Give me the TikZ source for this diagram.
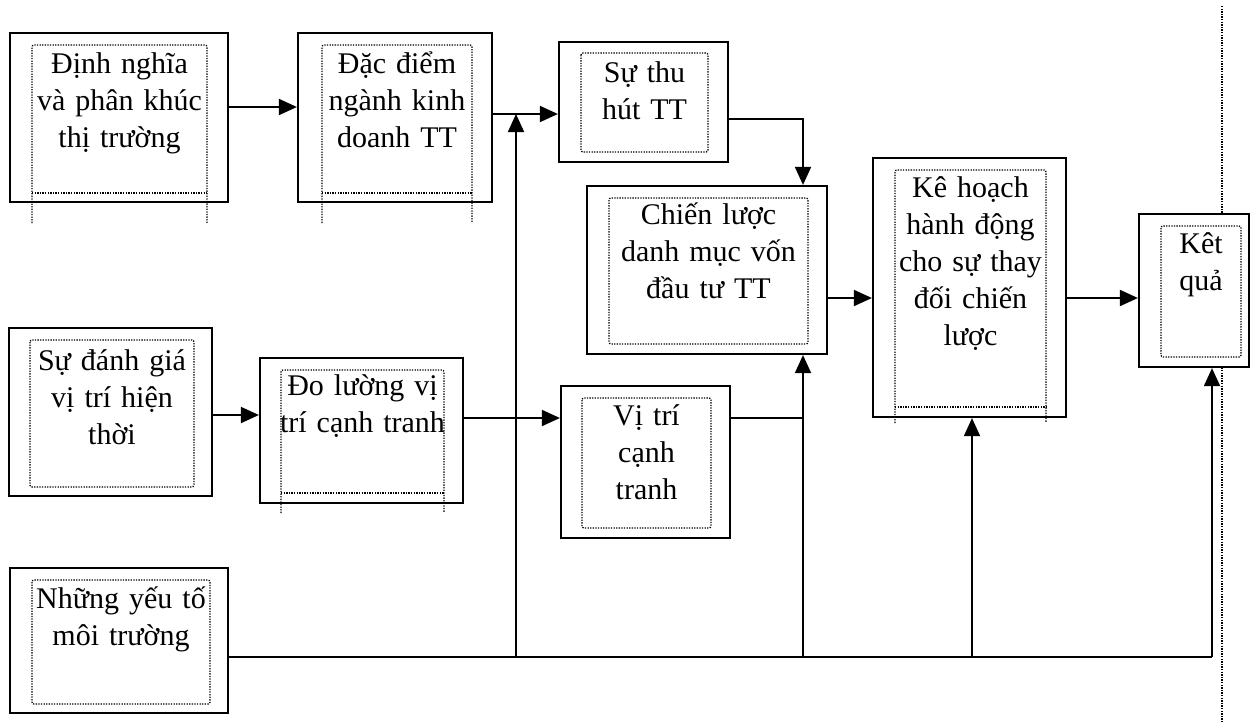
\documentclass[tikz,border=0pt]{standalone}
\usepackage{fontspec}
\setmainfont{Liberation Serif}
\usetikzlibrary{arrows.meta}
\begin{document}
\begin{tikzpicture}[x=1pt,y=-1pt,
  box/.style={draw, fill=white, line width=2.2pt, inner sep=0pt},
  inbox/.style={line width=1.3pt, dash pattern=on 1.3pt off 1.3pt, rounded corners=2pt},
  txt/.style={text width=240pt, align=center, inner sep=0pt, anchor=base,
    font=\fontsize{30}{37}\selectfont},
  arr/.style={line width=1.8pt, -{Triangle[length=18pt,width=16pt]}},
  ln/.style={line width=1.8pt}]
\useasboundingbox (0,0) rectangle (1251,724);
% dotted vertical guide
\draw[inbox] (1222,6) -- (1222,722);
% outer boxes
\node[box, minimum width=218pt, minimum height=169pt] (dn) at (119,117.5) {};
\node[box, minimum width=194pt, minimum height=169pt] (dd) at (395,117.5) {};
\node[box, minimum width=169pt, minimum height=120pt] (st) at (643.5,102) {};
\node[box, minimum width=240pt, minimum height=168pt] (cl) at (707,270) {};
\node[box, minimum width=193pt, minimum height=259pt] (kh) at (969.5,287.5) {};
\node[box, minimum width=110pt, minimum height=153pt] (kq) at (1194,290.5) {};
\node[box, minimum width=203pt, minimum height=168pt] (sd) at (110.5,412) {};
\node[box, minimum width=203pt, minimum height=145pt] (dl) at (361.5,430.5) {};
\node[box, minimum width=169pt, minimum height=152pt] (vt) at (645.5,462) {};
\node[box, minimum width=218pt, minimum height=145pt] (ny) at (119,640.5) {};
% inner dotted frames
\draw[inbox] (32,223) -- (32,45) -- (207,45) -- (207,223);
\draw[inbox] (32,193) -- (207,193);
\draw[inbox] (322,223) -- (322,45) -- (472,45) -- (472,223);
\draw[inbox] (322,193) -- (472,193);
\draw[inbox] (895,423) -- (895,170) -- (1046,170) -- (1046,423);
\draw[inbox] (895,407) -- (1046,407);
\draw[inbox] (281,513) -- (281,370) -- (444,370) -- (444,513);
\draw[inbox] (281,493) -- (444,493);
\draw[inbox] (581,53) rectangle (708,152);
\draw[inbox] (609,198) rectangle (808,344);
\draw[inbox] (1161,226) rectangle (1241,357);
\draw[inbox] (30,340) rectangle (194,487);
\draw[inbox] (582,398) rectangle (711,528);
\draw[inbox] (32,580) rectangle (210,704);
% texts
\node[txt] (dn-t) at (119.5,73) {Định nghĩa\\và phân khúc\\thị trường};
\node[txt] (dd-t) at (397,73) {Đặc điểm\\ngành kinh\\doanh TT};
\node[txt] (st-t) at (644.5,82) {Sự thu\\hút TT};
\node[txt] (cl-t) at (708.5,224) {Chiến lược\\danh mục vốn\\đầu tư TT};
\node[txt] (kh-t) at (970.5,197) {Kê hoạch\\hành động\\cho sự thay\\đối chiến\\lược};
\node[txt] (kq-t) at (1201,253) {Kêt\\quả};
\node[txt] (sd-t) at (112,370) {Sự đánh giá\\vị trí hiện\\thời};
\node[txt] (dl-t) at (362.5,395) {Đo lường vị\\trí cạnh tranh};
\node[txt] (vt-t) at (646.5,425) {Vị trí\\cạnh\\tranh};
\node[txt] (ny-t) at (121,608) {Những yếu tố\\môi trường};
% level coordinates
\coordinate (L1) at (0,107);
\coordinate (L2) at (0,114);
\coordinate (L3) at (0,119);
\coordinate (L4) at (0,298);
\coordinate (L5) at (0,415);
\coordinate (L6) at (0,418);
\coordinate (B) at (0,657);
\coordinate (X1) at (803,0);
\coordinate (X2) at (516,0);
\coordinate (X3) at (972,0);
\coordinate (X4) at (1212,0);
% connectors
\draw[arr] (dn.east |- L1) -- (dd.west |- L1);
\draw[arr] (dd.east |- L2) -- (st.west |- L2);
\draw[arr] (st.east |- L3) -| (X1 |- cl.north);
\draw[arr] (cl.east |- L4) -- (kh.west |- L4);
\draw[arr] (kh.east |- L4) -- (kq.west |- L4);
\draw[arr] (sd.east |- L5) -- (dl.west |- L5);
\draw[arr] (dl.east |- L6) -- (vt.west |- L6);
\draw[ln] (vt.east |- L6) -- (X1 |- L6);
\draw[ln] (ny.east |- B) -- (X4 |- B);
\draw[arr] (X2 |- B) -- (X2 |- L2);
\draw[arr] (X1 |- B) -- (X1 |- cl.south);
\draw[arr] (X3 |- B) -- (X3 |- kh.south);
\draw[arr] (X4 |- B) -- (X4 |- kq.south);
\end{tikzpicture}
\end{document}
